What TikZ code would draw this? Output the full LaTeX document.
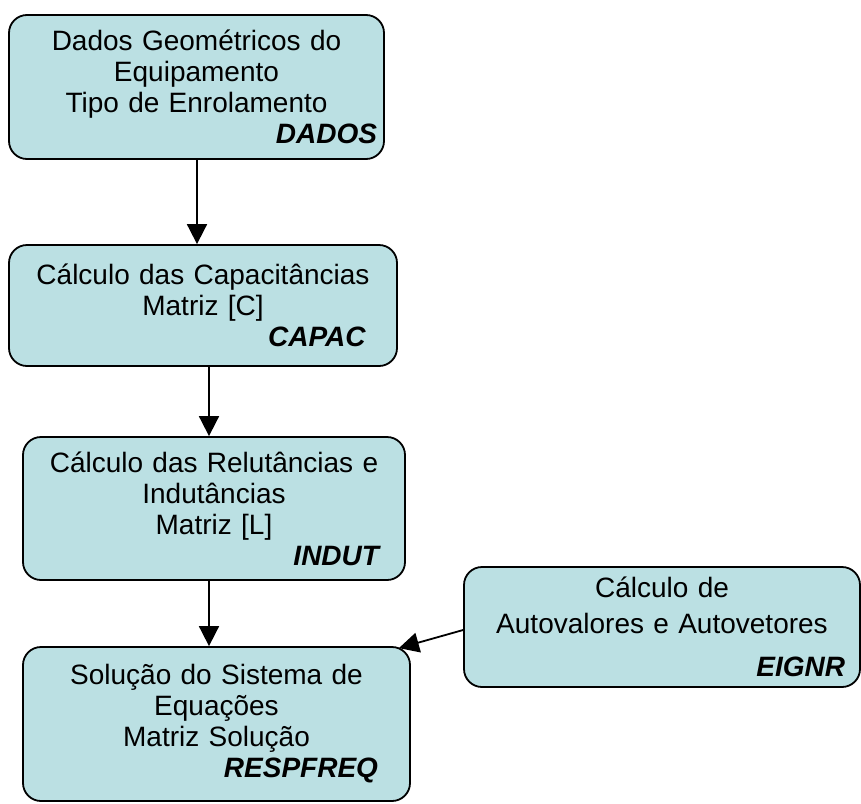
\documentclass[tikz,border=0pt]{standalone}
\usepackage{fontspec}
\setmainfont{Liberation Sans}
\usetikzlibrary{arrows.meta,positioning}

\definecolor{boxfill}{RGB}{187,224,227}
\newcommand{\modtag}[2]{\hspace*{\fill}\textbf{\textit{#2}}\rule{#1}{0pt}}

\tikzset{
  box/.style={draw=black, fill=boxfill, line width=1.8pt, rounded corners=18pt,
    inner sep=0pt, align=center, font=\fontsize{28}{31}\selectfont},
  flow/.style={line width=1.8pt, -{Triangle[length=20pt,width=20pt]}}
}

\begin{document}
\begin{tikzpicture}[x=1pt,y=-1pt]
\useasboundingbox (0,0) rectangle (861,803);

\node[box, text width=375pt, minimum height=144pt] (dados) at (196.5,87)
  {Dados Geométricos do\\Equipamento\\Tipo de Enrolamento\\\modtag{7pt}{DADOS}};
\node[box, text width=388pt, minimum height=121pt] (capac) at (203,305.5)
  {Cálculo das Capacitâncias\\Matriz [C]\\\modtag{31pt}{CAPAC}};
\node[box, text width=382pt, minimum height=143pt] (indut) at (214,508.5)
  {Cálculo das Relutâncias e\\Indutâncias\\Matriz [L]\\\modtag{24pt}{INDUT}};
\node[box, text width=387pt, minimum height=154pt] (respfreq) at (216.5,724)
  {Solução do Sistema de\\Equações\\Matriz Solução\\\modtag{32pt}{RESPFREQ}};
\node[box, text width=396pt, minimum height=120pt] (eignr) at (662,627)
  {Cálculo de\\[5pt]Autovalores e Autovetores\\[12pt]\modtag{15pt}{EIGNR}};

% connectors
\draw[flow] ([xshift=0.5pt]dados.south) -- ([xshift=0.5pt]dados.south |- capac.north);
\draw[flow] ([xshift=6pt]capac.south) -- ([xshift=6pt]capac.south |- indut.north);
\draw[flow] ([xshift=-5pt]indut.south) -- ([xshift=-5pt]indut.south |- respfreq.north);
\draw[flow] ([yshift=-3pt]eignr.west) -- ([shift={(-12pt,-2pt)}]respfreq.north east);
\end{tikzpicture}
\end{document}
